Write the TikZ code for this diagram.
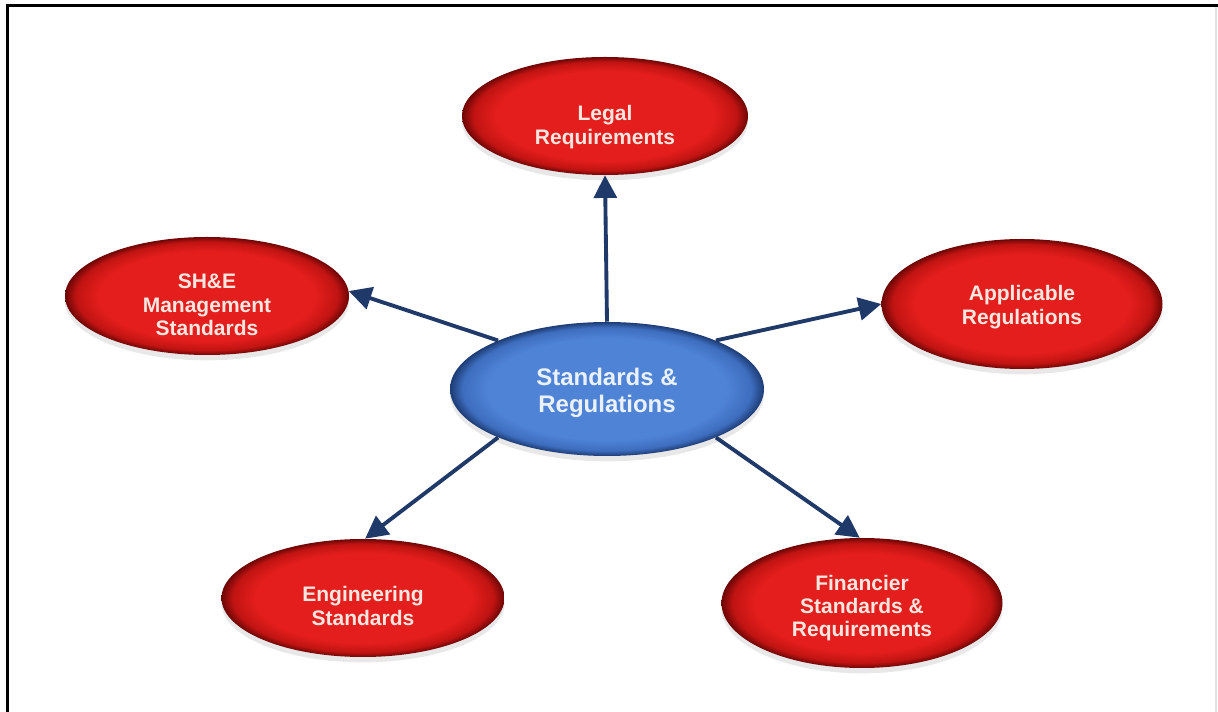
\documentclass[tikz,border=0pt]{standalone}
\usepackage{fontspec}
\setmainfont{Liberation Sans}
\usetikzlibrary{shapes.geometric,arrows.meta,shadows}

\definecolor{redA}{HTML}{E41E1C}
\definecolor{redB}{HTML}{C01412}
\definecolor{redC}{HTML}{6E0606}
\definecolor{blueA}{HTML}{4F83D6}
\definecolor{blueB}{HTML}{3D6DBE}
\definecolor{blueC}{HTML}{1E3C74}
\definecolor{arrowblue}{HTML}{1F3A68}
\definecolor{redtext}{HTML}{F8E6E0}
\definecolor{bluetext}{HTML}{EAF1FA}

% bevelled oval fills: flat centre, darker rim
\pgfdeclareradialshading{redoval}{\pgfpoint{0bp}{0bp}}{%
  color(0bp)=(redA); color(19bp)=(redA); color(23bp)=(redB);
  color(25bp)=(redC); color(50bp)=(redC)}
\pgfdeclareradialshading{blueoval}{\pgfpoint{0bp}{0bp}}{%
  color(0bp)=(blueA); color(19bp)=(blueA); color(23bp)=(blueB);
  color(25bp)=(blueC); color(50bp)=(blueC)}

\tikzset{
  oval/.style={ellipse, inner sep=0pt,
    drop shadow={opacity=0.18, shadow xshift=0pt, shadow yshift=-4pt}},
  redoval/.style={oval, shading=redoval},
  blueoval/.style={oval, shading=blueoval},
  redtxt/.style={align=center, inner sep=0pt, text=redtext,
    font=\bfseries\fontsize{15.75pt}{17.5pt}\selectfont},
  bluetxt/.style={align=center, inner sep=0pt, text=bluetext,
    font=\bfseries\fontsize{18pt}{20.5pt}\selectfont},
  link/.style={draw=arrowblue, line width=2.9pt,
    -{Triangle[length=17pt,width=17pt]}},
}

\begin{document}
\begin{tikzpicture}[x=0.75pt, y=-0.75pt]
  % page and frame
  \fill[white] (0,0) rectangle (1218,712);
  \useasboundingbox (0,0) rectangle (1218,712);
  \draw[black, line width=2.4pt] (7.5,712) -- (7.5,5.5) -- (1218,5.5);
  \draw[black!12, line width=1pt] (1216,7) -- (1216,712);

  % hub
  \node[blueoval, minimum width=314*0.75pt, minimum height=134*0.75pt]
    (hub) at (607,389) {};
  \node[bluetxt] (hub-t) at (607,393) {Standards \&\\Regulations};

  % surrounding topics
  \node[redoval, minimum width=286*0.75pt, minimum height=118*0.75pt]
    (legal) at (605,116) {};
  \node[redtxt] (legal-t) at (605,127) {Legal\\Requirements};
  \node[redoval, minimum width=284*0.75pt, minimum height=118*0.75pt]
    (she) at (207,296) {};
  \node[redtxt] (she-t) at (207,305) {SH\&E\\Management\\Standards};
  \node[redoval, minimum width=281*0.75pt, minimum height=130*0.75pt]
    (app) at (1022,304) {};
  \node[redtxt] (app-t) at (1022,307) {Applicable\\Regulations};
  \node[redoval, minimum width=283*0.75pt, minimum height=118*0.75pt]
    (eng) at (363,598) {};
  \node[redtxt] (eng-t) at (363,606) {Engineering\\Standards};
  \node[redoval, minimum width=281*0.75pt, minimum height=130*0.75pt]
    (fin) at (862,603) {};
  \node[redtxt] (fin-t) at (862,608) {Financier\\Standards \&\\Requirements};

  % connectors
  \draw[link] (hub.90) -- (legal.south);
  \draw[link] (hub.156) -- (she.2);
  \draw[link] (hub.24) -- (app.180);
  \draw[link] (hub.204) -- (eng.88);
  \draw[link] (hub.336) -- (fin.92);
\end{tikzpicture}
\end{document}
